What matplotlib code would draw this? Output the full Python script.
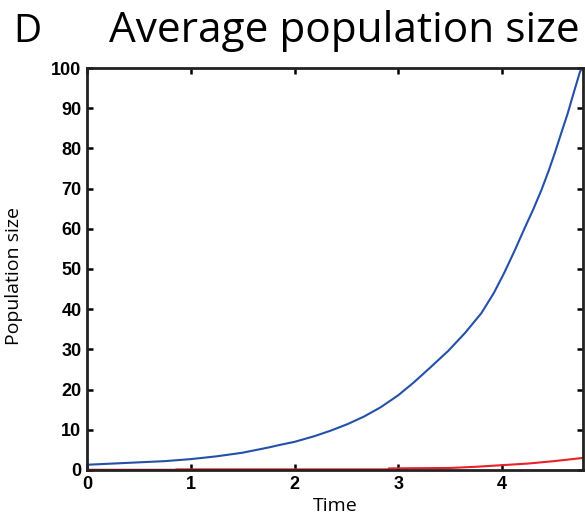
import numpy as np
import matplotlib
matplotlib.use("Agg")
from matplotlib import pyplot as plt

# values
time_blue = [0, 0.25, 0.5, 0.75, 1.0, 1.25, 1.5, 1.75, 1.87, 2.0, 2.19, 2.35,
             2.51, 2.67, 2.83, 3.0, 3.15, 3.3, 3.48, 3.64, 3.8, 3.92, 4.02,
             4.12, 4.22, 4.3, 4.38, 4.45, 4.51, 4.57, 4.63, 4.69, 4.75, 4.78]
pop_blue = [1.3, 1.6, 1.9, 2.2, 2.7, 3.4, 4.3, 5.6, 6.3, 7.0, 8.4, 9.8,
            11.4, 13.3, 15.6, 18.6, 21.8, 25.3, 29.6, 34.0, 39.0, 44.0, 49.0,
            54.5, 60.3, 64.8, 69.7, 74.5, 79.0, 83.8, 88.5, 93.8, 99.0, 100.5]
time_red = [0, 0.85, 0.86, 2.9, 2.91, 3.5, 3.75, 4.0, 4.25, 4.5, 4.78]
pop_red = [0.05, 0.05, 0.15, 0.15, 0.4, 0.5, 0.8, 1.2, 1.6, 2.2, 3.0]

x_ticks = [0, 1, 2, 3, 4]
y_ticks = [0, 10, 20, 30, 40, 50, 60, 70, 80, 90, 100]

fig = plt.figure(figsize=(5.85, 5.18), dpi=100)
ax = fig.add_axes([0.1487, 0.0927, 0.8479, 0.776])

ax.plot(time_blue, pop_blue, color="#2450a8", lw=1.5)
ax.plot(time_red, pop_red, color="#e8212b", lw=1.5)

ax.set_xlim(0, 4.78)
ax.set_ylim(0, 100)
ax.set_xticks(x_ticks)
ax.set_yticks(y_ticks)
ax.set_xticklabels([str(v) for v in x_ticks], fontfamily="Liberation Sans",
                   fontweight="bold", fontsize=13)
ax.set_yticklabels([str(v) for v in y_ticks], fontfamily="Liberation Sans",
                   fontweight="bold", fontsize=13)
ax.tick_params(direction="in", length=4, width=1.8, top=True, right=True,
               labeltop=False, labelright=False, pad=4)
for sp in ax.spines.values():
    sp.set_linewidth(2)
    sp.set_color("#222222")

ax.set_xlabel("Time", fontfamily="Open Sans", fontsize=14, labelpad=3)
ax.set_ylabel("Population size", fontfamily="Open Sans", fontsize=14, labelpad=14)
ax.yaxis.set_label_coords(-0.128, 0.483)

fig.text(0.022, 0.919, "D", fontfamily="Open Sans", fontsize=28, va="baseline")
fig.text(0.99, 0.919, "Average population size", fontfamily="Open Sans",
         fontsize=30.5, ha="right", va="baseline")

fig.savefig("out.png", dpi=100)
